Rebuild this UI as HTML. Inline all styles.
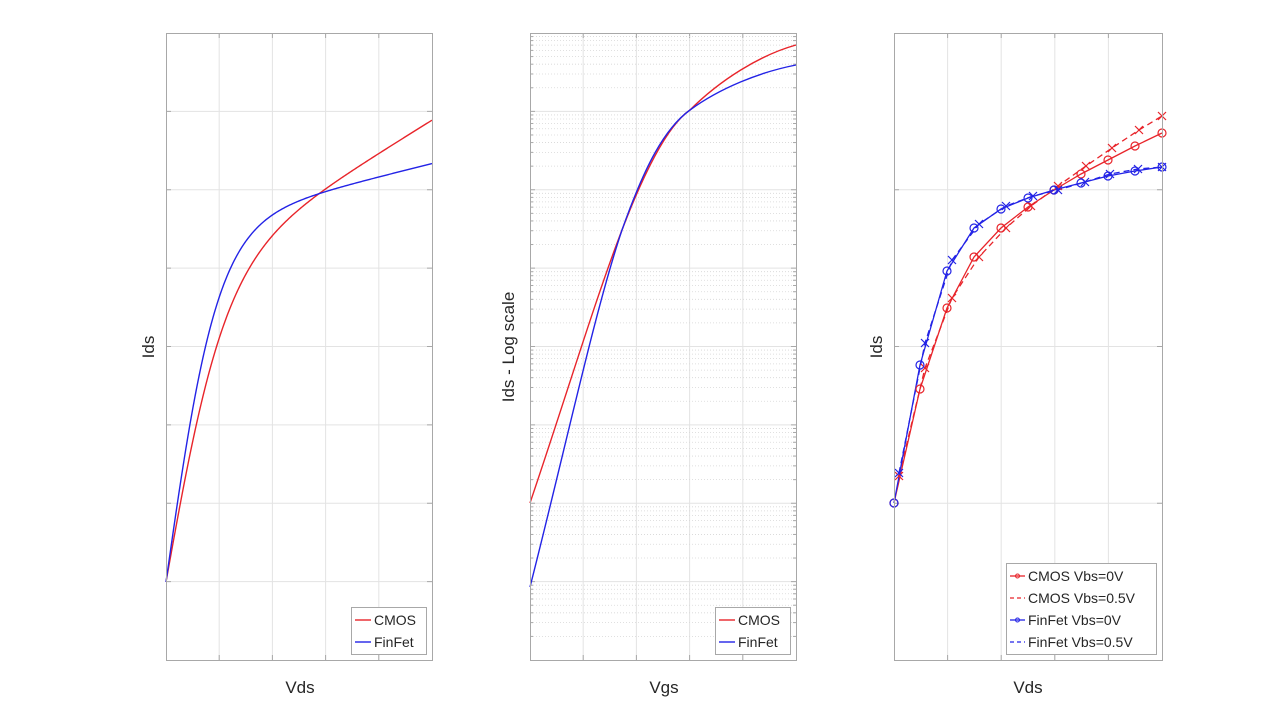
<!DOCTYPE html>
<html><head><meta charset="utf-8"><style>
html,body{margin:0;padding:0;background:#fff;}
svg{display:block;font-family:"Liberation Sans",sans-serif;}
</style></head><body>
<svg id="s" width="1280" height="721" viewBox="0 0 1280 721" xmlns="http://www.w3.org/2000/svg">
<rect width="1280" height="721" fill="#fff"/>
<g id="grid"></g>
<path id="p1r" fill="none" stroke="#e8242a" stroke-width="1.4"/>
<path id="p1b" fill="none" stroke="#2323e6" stroke-width="1.4"/>
<path d="M530,503 C565,400 595,300 622,230 C645,170 668,125 690,110 C720,80 760,55 796,45" fill="none" stroke="#e8242a" stroke-width="1.4"/>
<path d="M530,587 C565,450 595,310 622,230 C645,165 665,128 690,110 C720,88 760,72 796,65" fill="none" stroke="#2323e6" stroke-width="1.4"/>
<polyline points="894,503 920,389 947,308 974,257 1001,228 1028,207 1054,190 1081,174 1108,160 1135,146 1162,133" fill="none" stroke="#e8242a" stroke-width="1.3"/>
<polyline points="899,476 925,368 952,298 979,257 1006,228 1031,206 1058,186 1086,166 1112,148 1139,130 1162,116" fill="none" stroke="#e8242a" stroke-width="1.3" stroke-dasharray="6,4"/>
<polyline points="894,503 920,365 947,271 974,228 1001,209 1028,198 1054,190 1081,183 1108,176 1135,171 1162,167" fill="none" stroke="#2323e6" stroke-width="1.3"/>
<polyline points="899,473 925,343 952,260 979,224 1006,206 1033,196 1058,190 1085,182 1110,174 1138,169 1162,167" fill="none" stroke="#2323e6" stroke-width="1.3" stroke-dasharray="6,4"/>
<g id="marks"></g>
<g fill="none" stroke="#a8a8a8" stroke-width="1">
<rect x="166.5" y="33.5" width="266" height="627"/>
<rect x="530.5" y="33.5" width="266" height="627"/>
<rect x="894.5" y="33.5" width="268" height="627"/>
</g>
<g fill="#262626" font-size="17" text-anchor="middle">
<text x="300" y="693">Vds</text>
<text x="664" y="693">Vgs</text>
<text x="1028" y="693">Vds</text>
<text transform="translate(154,347) rotate(-90)">Ids</text>
<text transform="translate(514,347) rotate(-90)">Ids - Log scale</text>
<text transform="translate(882,347) rotate(-90)">Ids</text>
</g>
<g font-size="14" fill="#262626">
<rect x="351.5" y="607.5" width="75" height="47" fill="#fff" stroke="#a8a8a8"/>
<line x1="355" y1="620" x2="371" y2="620" stroke="#e8242a" stroke-width="1.4"/>
<line x1="355" y1="642" x2="371" y2="642" stroke="#2323e6" stroke-width="1.4"/>
<text x="374" y="625">CMOS</text><text x="374" y="647">FinFet</text>
<rect x="715.5" y="607.5" width="75" height="47" fill="#fff" stroke="#a8a8a8"/>
<line x1="719" y1="620" x2="735" y2="620" stroke="#e8242a" stroke-width="1.4"/>
<line x1="719" y1="642" x2="735" y2="642" stroke="#2323e6" stroke-width="1.4"/>
<text x="738" y="625">CMOS</text><text x="738" y="647">FinFet</text>
<rect x="1006.5" y="563.5" width="150" height="91" fill="#fff" stroke="#a8a8a8"/>
<line x1="1010" y1="576" x2="1025" y2="576" stroke="#e8242a" stroke-width="1.3"/>
<circle cx="1017.5" cy="576" r="2" fill="none" stroke="#e8242a"/>
<line x1="1010" y1="598" x2="1025" y2="598" stroke="#e8242a" stroke-width="1.3" stroke-dasharray="4,3"/>
<line x1="1010" y1="620" x2="1025" y2="620" stroke="#2323e6" stroke-width="1.3"/>
<circle cx="1017.5" cy="620" r="2" fill="none" stroke="#2323e6"/>
<line x1="1010" y1="642" x2="1025" y2="642" stroke="#2323e6" stroke-width="1.3" stroke-dasharray="4,3"/>
<text x="1028" y="581">CMOS Vbs=0V</text>
<text x="1028" y="603">CMOS Vbs=0.5V</text>
<text x="1028" y="625">FinFet Vbs=0V</text>
<text x="1028" y="647">FinFet Vbs=0.5V</text>
</g>
</svg>
<script>
var NS="http://www.w3.org/2000/svg",g=document.getElementById('grid'),m=document.getElementById('marks');
function curve(A,b,c){var d='';for(var dx=0;dx<=266;dx++){var y=582-(A*Math.tanh(dx/b)+c*dx);d+=(dx?' L':'M')+(166+dx)+','+y.toFixed(2);}return d;}
document.getElementById('p1r').setAttribute('d',curve(297,60,0.62));
document.getElementById('p1b').setAttribute('d',curve(352,52,0.25));
function L(p,x1,y1,x2,y2,c,w,d){var l=document.createElementNS(NS,'line');l.setAttribute('x1',x1);l.setAttribute('y1',y1);l.setAttribute('x2',x2);l.setAttribute('y2',y2);l.setAttribute('stroke',c);l.setAttribute('stroke-width',w||1);if(d)l.setAttribute('stroke-dasharray',d);p.appendChild(l);}
var gc="#e3e3e3",tc="#a8a8a8";
for(var i=1;i<5;i++){var x=166+i*266/5;L(g,x,33,x,660,gc);L(g,x,660,x,655,tc);L(g,x,33,x,38,tc);}
for(var i=1;i<8;i++){var y=33+i*627/8;L(g,166,y,432,y,gc);L(g,166,y,171,y,tc);L(g,432,y,427,y,tc);}
for(var i=1;i<5;i++){var x=530+i*266/5;L(g,x,33,x,660,gc);L(g,x,660,x,655,tc);L(g,x,33,x,38,tc);}
for(var d=0;d<8;d++){var yb=660-d*78.375;
 if(d>0){L(g,530,yb,796,yb,gc);L(g,530,yb,535,yb,tc);L(g,796,yb,791,yb,tc);}
 for(var k=2;k<10;k++){var y=yb-Math.log10(k)*78.375;L(g,530,y,796,y,"#d6d6d6",0.8,"1,2");L(g,530,y,533,y,tc);L(g,796,y,793,y,tc);}}
for(var i=1;i<5;i++){var x=894+i*268/5;L(g,x,33,x,660,gc);L(g,x,660,x,655,tc);L(g,x,33,x,38,tc);}
for(var i=1;i<4;i++){var y=33+i*627/4;L(g,894,y,1162,y,gc);L(g,894,y,899,y,tc);L(g,1162,y,1157,y,tc);}
function C(x,y,c){var e=document.createElementNS(NS,'circle');e.setAttribute('cx',x);e.setAttribute('cy',y);e.setAttribute('r',4);e.setAttribute('fill','none');e.setAttribute('stroke',c);e.setAttribute('stroke-width',1.2);m.appendChild(e);}
function X(x,y,c){L(m,x-4,y-4,x+4,y+4,c,1.2);L(m,x-4,y+4,x+4,y-4,c,1.2);}
var R="#e8242a",B="#2323e6";
"894,503 920,389 947,308 974,257 1001,228 1028,207 1054,190 1081,174 1108,160 1135,146 1162,133".split(' ').forEach(function(p){p=p.split(',');C(+p[0],+p[1],R);});
"899,476 925,368 952,298 979,257 1006,228 1031,206 1058,186 1086,166 1112,148 1139,130 1162,116".split(' ').forEach(function(p){p=p.split(',');X(+p[0],+p[1],R);});
"894,503 920,365 947,271 974,228 1001,209 1028,198 1054,190 1081,183 1108,176 1135,171 1162,167".split(' ').forEach(function(p){p=p.split(',');C(+p[0],+p[1],B);});
"899,473 925,343 952,260 979,224 1006,206 1033,196 1058,190 1085,182 1110,174 1138,169 1162,167".split(' ').forEach(function(p){p=p.split(',');X(+p[0],+p[1],B);});
X(1017.5,598,R);X(1017.5,642,B);
</script>
</body></html>
